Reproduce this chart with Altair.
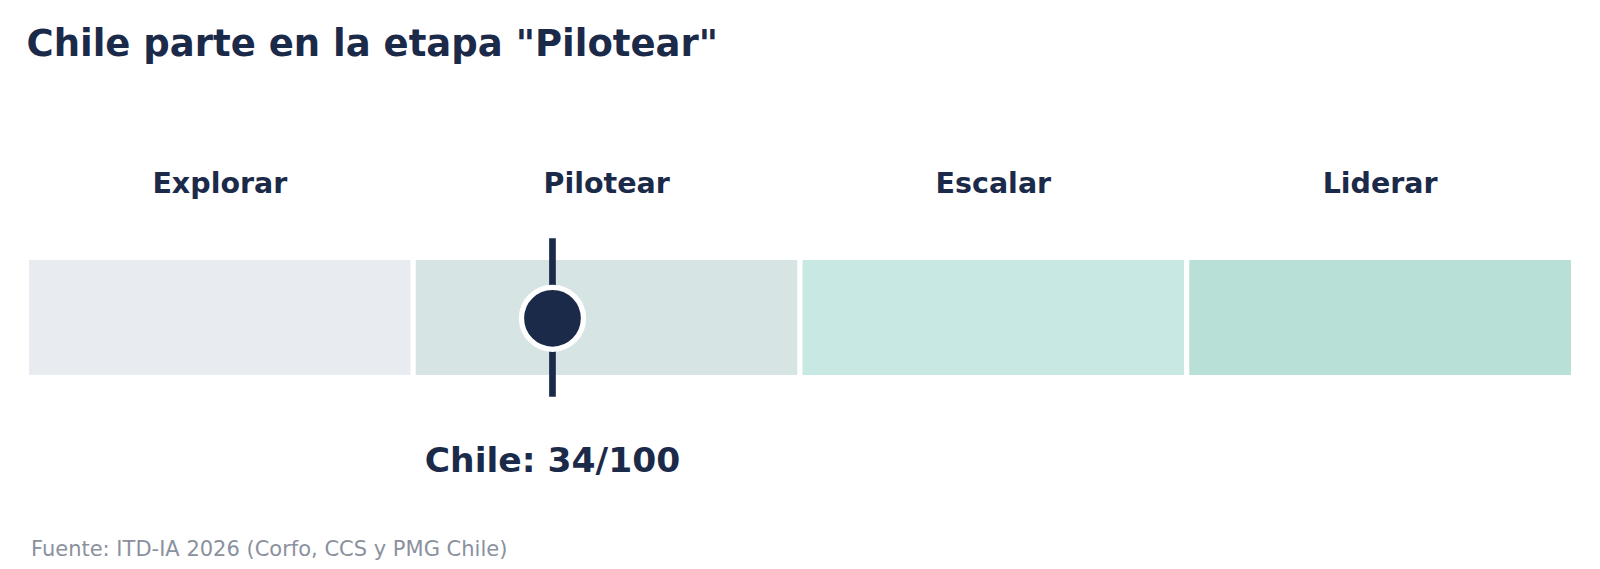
import altair as alt
import pandas as pd

# ---- data ----
stages = ["Explorar", "Pilotear", "Escalar", "Liderar"]
stage_start = [0, 25, 50, 75]
stage_end = [25, 50, 75, 100]
stage_colors = ["#E8ECF1", "#D6E5E4", "#C8E8E3", "#B8E0D7"]
country = "Chile"
score = 34
title_text = 'Chile parte en la etapa "Pilotear"'
source_text = "Fuente: ITD-IA 2026 (Corfo, CCS y PMG Chile)"

NAVY = "#1C2A4A"
FONT = "DejaVu Sans"

stages_df = pd.DataFrame({
    "stage": stages,
    "start": stage_start,
    "end": stage_end,
    "mid": [(a + b) / 2 for a, b in zip(stage_start, stage_end)],
})
score_df = pd.DataFrame({"score": [score], "label": [f"{country}: {score}/100"]})
source_df = pd.DataFrame({"text": [source_text]})

xscale = alt.Scale(domain=[0, 100], nice=False, zero=False)

bars = alt.Chart(stages_df).mark_rect(stroke="white", strokeWidth=5).encode(
    x=alt.X("start:Q", scale=xscale, axis=None),
    x2="end:Q",
    y=alt.value(161.5),
    y2=alt.value(281.5),
    color=alt.Color("stage:N", scale=alt.Scale(domain=stages, range=stage_colors), legend=None),
)

stage_labels = alt.Chart(stages_df).mark_text(
    font=FONT, fontSize=28.5, fontWeight="bold", color=NAVY, baseline="alphabetic", align="center"
).encode(
    x=alt.X("mid:Q", scale=xscale, axis=None),
    y=alt.value(97),
    text="stage:N",
)

rule = alt.Chart(score_df).mark_rule(color=NAVY, strokeWidth=6.7).encode(
    x=alt.X("score:Q", scale=xscale, axis=None),
    y=alt.value(142.3),
    y2=alt.value(300.7),
)

dot = alt.Chart(score_df).mark_point(
    shape="circle", filled=True, fill=NAVY, stroke="white", strokeWidth=5.3, size=3844, opacity=1
).encode(
    x=alt.X("score:Q", scale=xscale, axis=None),
    y=alt.value(222.3),
)

score_label = alt.Chart(score_df).mark_text(
    font=FONT, fontSize=34.5, fontWeight="bold", color=NAVY, baseline="alphabetic", align="center"
).encode(
    x=alt.X("score:Q", scale=xscale, axis=None),
    y=alt.value(375.7),
    text="label:N",
)

source = alt.Chart(source_df).mark_text(
    font=FONT, fontSize=21, color="#8A919E", baseline="alphabetic", align="left"
).encode(
    x=alt.value(4.5),
    y=alt.value(460),
    text="text:N",
)

chart = alt.layer(bars, stage_labels, rule, dot, score_label, source).properties(
    width=1547,
    height=465,
    padding={"left": 18.5, "top": 88, "right": 0, "bottom": 0},
    autosize=alt.AutoSizeParams(type="none"),
    title=alt.TitleParams(
        text=title_text, anchor="start", fontSize=37, font=FONT, fontWeight="bold",
        color=NAVY, baseline="alphabetic", offset=3, dx=2.5,
    ),
).configure(background="white").configure_view(stroke=None)

chart.save("out.html", embed_options={"renderer": "svg", "actions": False})
